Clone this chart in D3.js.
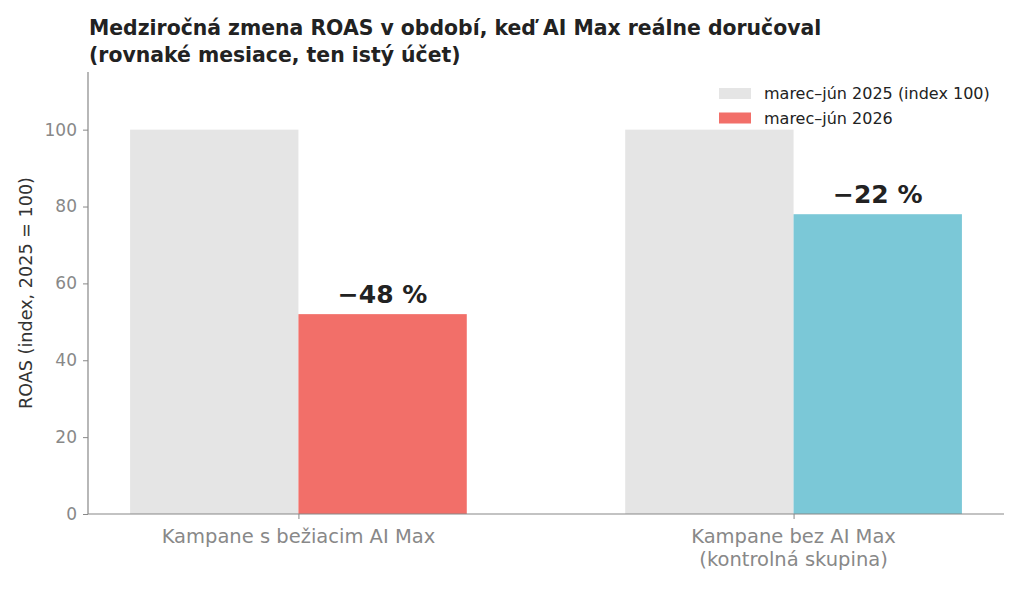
<!DOCTYPE html>
<html>
<head>
<meta charset="utf-8">
<script src="https://cdn.jsdelivr.net/npm/d3@7"></script>
<style>
  body { margin: 0; background: #fff; }
  svg { font-family: "DejaVu Sans", sans-serif; }
</style>
</head>
<body>
<svg id="viz"></svg>
<script>
// the data
var categories = ["Kampane s bežiacim AI Max", "Kampane bez AI Max\n(kontrolná skupina)"];
var base2025 = [100, 100];
var values2026 = [52, 78];
var changeLabels = ["−48 %", "−22 %"];
var colors2026 = ["#f26f69", "#7bc8d7"];
var legendLabels = ["marec–jún 2025 (index 100)", "marec–jún 2026"];
var yTicks = [0, 20, 40, 60, 80, 100];

// set up the svg
var w = 1024, h = 589;
var svg = d3.select("#viz").attr("width", w).attr("height", h);

var mLeft = 88, mRight = 1004, mTop = 72, mBottom = 514;
var barW = 0.34;

var x = d3.scaleLinear().domain([-0.425, 1.425]).range([mLeft, mRight]);
var y = d3.scaleLinear().domain([0, 115]).range([mBottom, mTop]);

// title
var title = svg.append("text").attr("x", 89).attr("y", 35)
  .attr("font-size", 20.4).attr("font-weight", "bold").attr("fill", "#222");
title.append("tspan").attr("x", 89).text("Medziročná zmena ROAS v období, keď AI Max reálne doručoval");
title.append("tspan").attr("x", 89).attr("dy", 27).text("(rovnaké mesiace, ten istý účet)");

// bars 2025
svg.selectAll("rect.base").data(base2025).enter().append("rect")
  .attr("class", "base")
  .attr("x", function(d, i) { return x(i - barW); })
  .attr("width", function(d, i) { return x(i) - x(i - barW); })
  .attr("y", function(d) { return y(d); })
  .attr("height", function(d) { return y(0) - y(d); })
  .attr("fill", "#e5e5e5");

// bars 2026
svg.selectAll("rect.cur").data(values2026).enter().append("rect")
  .attr("class", "cur")
  .attr("x", function(d, i) { return x(i); })
  .attr("width", function(d, i) { return x(i + barW) - x(i); })
  .attr("y", function(d) { return y(d); })
  .attr("height", function(d) { return y(0) - y(d); })
  .attr("fill", function(d, i) { return colors2026[i]; });

// change labels
svg.selectAll("text.chg").data(values2026).enter().append("text")
  .attr("class", "chg")
  .attr("x", function(d, i) { return x(i + barW / 2); })
  .attr("y", function(d) { return y(d) - 11; })
  .attr("text-anchor", "middle")
  .attr("font-size", 25).attr("font-weight", "bold").attr("fill", "#222")
  .text(function(d, i) { return changeLabels[i]; });

// y axis
var yAxis = svg.append("g").attr("transform", "translate(" + mLeft + ",0)")
  .call(d3.axisLeft(y).tickValues(yTicks).tickSize(5).tickPadding(6));
yAxis.select(".domain").attr("stroke", "#888").attr("stroke-width", 1.2)
  .attr("d", "M0," + mBottom + "V" + mTop);
yAxis.selectAll(".tick line").attr("stroke", "#888");
yAxis.selectAll(".tick text").attr("fill", "#888").attr("font-size", 17)
  .attr("font-family", "DejaVu Sans, sans-serif");

// x axis
var xAxis = svg.append("g").attr("transform", "translate(0," + mBottom + ")")
  .call(d3.axisBottom(x).tickValues([0, 1]).tickSize(5).tickFormat(""));
xAxis.select(".domain").attr("stroke", "#888").attr("stroke-width", 1.2)
  .attr("d", "M" + mLeft + ",0H" + mRight);
xAxis.selectAll(".tick line").attr("stroke", "#888");

svg.selectAll("text.cat").data(categories).enter().append("text")
  .attr("class", "cat")
  .attr("text-anchor", "middle")
  .attr("font-size", 19.5).attr("fill", "#888")
  .each(function(d, i) {
    var t = d3.select(this);
    d.split("\n").forEach(function(line, j) {
      t.append("tspan").attr("x", x(i)).attr("y", 543 + j * 23).text(line);
    });
  });

// y label
svg.append("text")
  .attr("transform", "translate(32," + ((mTop + mBottom) / 2) + ") rotate(-90)")
  .attr("text-anchor", "middle").attr("font-size", 17.6).attr("fill", "#333")
  .text("ROAS (index, 2025 = 100)");

// legend
var legendColors = ["#e5e5e5", colors2026[0]];
var lg = svg.selectAll("g.leg").data(legendLabels).enter().append("g")
  .attr("class", "leg")
  .attr("transform", function(d, i) { return "translate(719," + (88 + i * 24.5) + ")"; });
lg.append("rect").attr("width", 32).attr("height", 11)
  .attr("fill", function(d, i) { return legendColors[i]; });
lg.append("text").attr("x", 45).attr("y", 11).attr("font-size", 16).attr("fill", "#222")
  .text(function(d) { return d; });
</script>
</body>
</html>
